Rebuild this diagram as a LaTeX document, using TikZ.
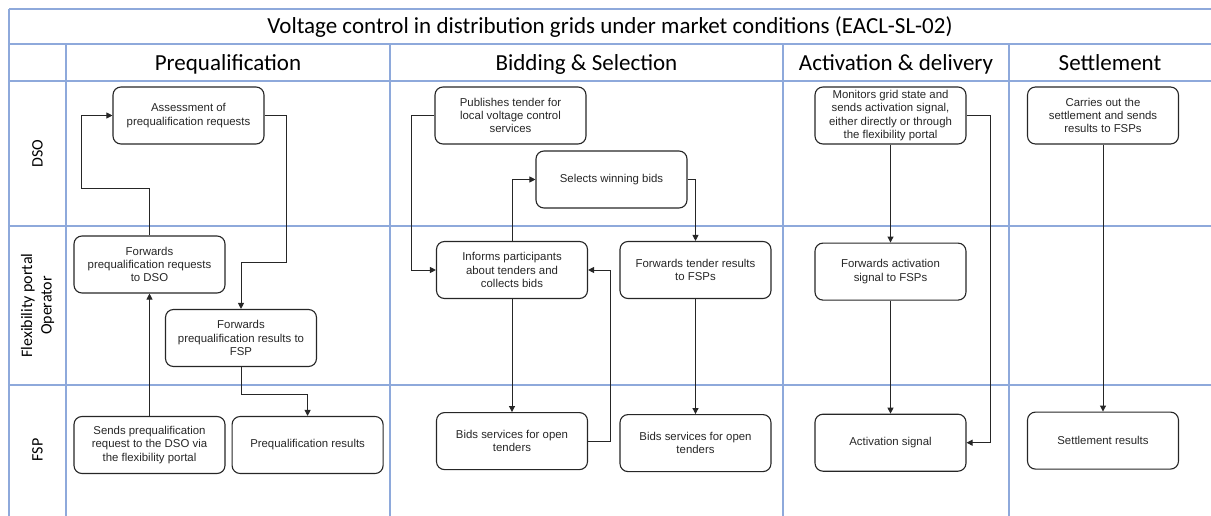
\documentclass[tikz,border=0pt]{standalone}
\usepackage{fontspec}
\setmainfont{Carlito}
\newfontfamily\boxfont{Liberation Sans}
\usetikzlibrary{positioning, arrows.meta}
\definecolor{gridblue}{RGB}{142,169,219}
\definecolor{boxline}{RGB}{38,38,38}

\begin{document}
\begin{tikzpicture}[
    x=1pt, y=-1pt,
    node distance=6pt,
    box/.style={draw=boxline, line width=1.1pt, rounded corners=8pt, minimum width=151pt, minimum height=57pt, inner sep=2pt, align=center, text=black!85, font=\boxfont\fontsize{11.4}{13.3}\selectfont},
    lanename/.style={rotate=90, align=center, font=\fontsize{16}{19.5}\selectfont},
    phase/.style={anchor=base, font=\fontsize{23}{27}\selectfont},
    gridline/.style={draw=gridblue, line width=1.4pt},
    arrow/.style={-{Triangle[length=6pt,width=6pt]}, line width=1pt, draw=boxline}
]
\useasboundingbox (0,0) rectangle (1211,516);

% swimlane grid
\draw[gridline] (9,9) -- (1211,9);
\draw[gridline] (9,44) -- (1211,44);
\draw[gridline] (9,81) -- (1211,81);
\draw[gridline] (9,226) -- (1211,226);
\draw[gridline] (9,385) -- (1211,385);
\draw[gridline] (9,9) -- (9,516);
\foreach \x in {66,390,783,1009}
    \draw[gridline] (\x,44) -- (\x,516);

% title, phases and lanes
\node[phase] (title) at (610,34) {Voltage control in distribution grids under market conditions (EACL-SL-02)};
\node[phase] (h1) at (228,71) {Prequalification};
\node[phase] (h2) at (586.5,71) {Bidding \& Selection};
\node[phase] (h3) at (896,71) {Activation \& delivery};
\node[phase] (h4) at (1110,71) {Settlement};
\node[lanename] (l1) at (37.5,153.5) {DSO};
\node[lanename] (l2) at (37.5,305.5) {Flexibility portal\\Operator};
\node[lanename] (l3) at (37.5,450) {FSP};

% prequalification
\node[box] (p1) at (188.5,115.5) {Assessment of\\prequalification requests};
\node[box] (p2) at (149.5,264.5) {Forwards\\prequalification requests\\to DSO};
\node[box] (p3) at (241,338) {Forwards\\prequalification results to\\FSP};
\node[box] (p4) at (149.5,445) {Sends prequalification\\request to the DSO via\\the flexibility portal};
\node[box, right=of p4] (p5) {Prequalification results};

\draw[arrow] (p2.north) |- (81,189) |- (p1.west);
\draw[arrow] (p1.east) -| (286,262) -| (p3.north);
\draw[arrow] (p4) -- (p2);
\draw[arrow] (p3.south) -- ++(0,27) -| (p5.north);

% bidding & selection
\node[box] (b1) at (510.5,115.5) {Publishes tender for\\local voltage control\\services};
\node[box] (b2) at (611.5,179.5) {Selects winning bids};
\node[box] (b3) at (512,270) {Informs participants\\about tenders and\\collects bids};
\node[box] (b4) at (695.5,270) {Forwards tender results\\to FSPs};
\node[box, below=113pt of b3] (b5) {Bids services for open\\tenders};
\node[box, below=115pt of b4] (b6) {Bids services for open\\tenders};

\draw[arrow] (b1.west) -- ++(-23,0) |- (b3.west);
\draw[arrow] (b3.north) |- (b2.west);
\draw[arrow] (b2.east) -| (b4.north);
\draw[arrow] (b3) -- (b5);
\draw[arrow] (b5.east) -- ++(22,0) |- (b3.east);
\draw[arrow] (b4) -- (b6);

% activation & delivery
\node[box] (a1) at (890.5,115.5) {Monitors grid state and\\sends activation signal,\\either directly or through\\the flexibility portal};
\node[box, below=98pt of a1] (a2) {Forwards activation\\signal to FSPs};
\node[box, below=113pt of a2] (a3) {Activation signal};

\draw[arrow] (a1) -- (a2);
\draw[arrow] (a2) -- (a3);
\draw[arrow] (a1.east) -- ++(24,0) |- (a3.east);

% settlement
\node[box] (s1) at (1103,115.5) {Carries out the\\settlement and sends\\results to FSPs};
\node[box, below=267pt of s1] (s2) {Settlement results};

\draw[arrow] (s1) -- (s2);
\end{tikzpicture}
\end{document}
